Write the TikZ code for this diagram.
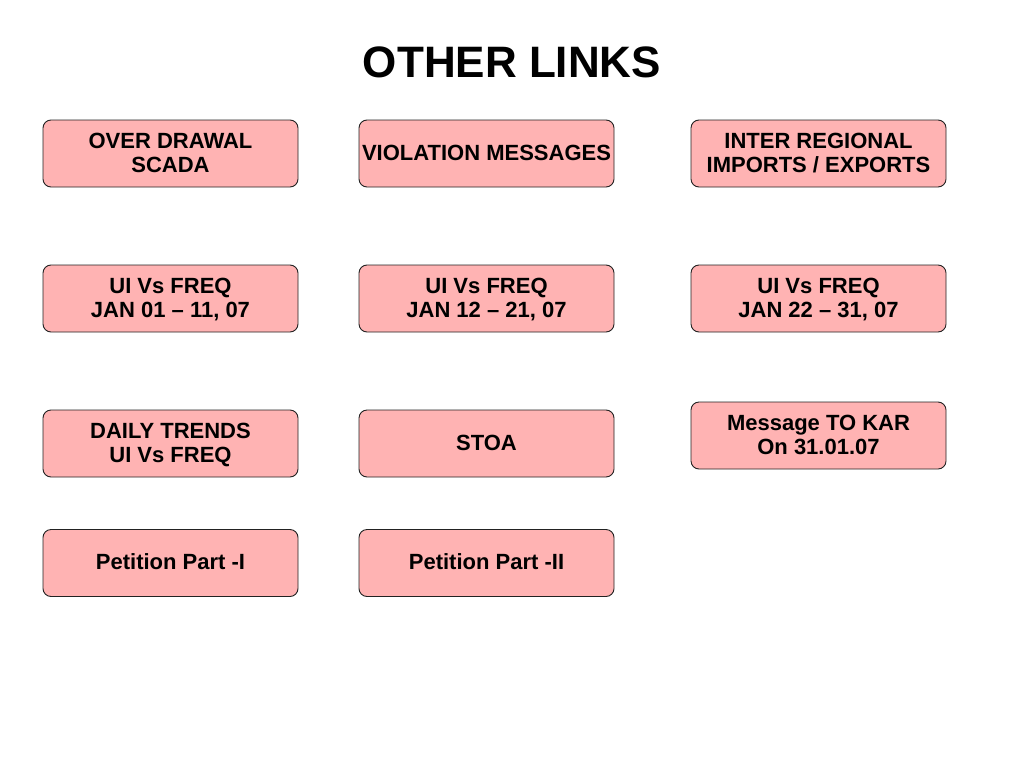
\documentclass[tikz,border=0pt]{standalone}
\usepackage{fontspec}
\setmainfont{Liberation Sans}
\definecolor{boxfill}{HTML}{FFB3B3}
\definecolor{boxline}{HTML}{222222}
\begin{document}
\begin{tikzpicture}[x=1pt,y=-1pt,
  linkbox/.style={draw=boxline, line width=0.9pt, fill=boxfill, rounded corners=8pt,
    minimum width=255pt, minimum height=67pt, inner sep=0pt, align=center,
    text depth=2pt, font=\fontsize{22}{24}\selectfont\bfseries, text=black}]
\useasboundingbox[fill=white] (0,0) rectangle (1024,768);
\node[font=\fontsize{44}{50}\selectfont\bfseries] (title) at (512,62) {OTHER LINKS};
\node[linkbox] (od) at (170.5,153.5) {OVER DRAWAL\\SCADA};
\node[linkbox] (vm) at (486.5,153.5) {VIOLATION MESSAGES};
\node[linkbox] (ir) at (818.5,153.5) {INTER REGIONAL\\IMPORTS / EXPORTS};
\node[linkbox] (ui1) at (170.5,298.5) {UI Vs FREQ\\JAN 01 – 11, 07};
\node[linkbox] (ui2) at (486.5,298.5) {UI Vs FREQ\\JAN 12 – 21, 07};
\node[linkbox] (ui3) at (818.5,298.5) {UI Vs FREQ\\JAN 22 – 31, 07};
\node[linkbox] (dt) at (170.5,443.5) {DAILY TRENDS\\UI Vs FREQ};
\node[linkbox] (stoa) at (486.5,443.5) {STOA};
\node[linkbox] (msg) at (818.5,435.5) {Message TO KAR\\On 31.01.07};
\node[linkbox] (p1) at (170.5,563) {Petition Part -I};
\node[linkbox] (p2) at (486.5,563) {Petition Part -II};
\end{tikzpicture}
\end{document}
